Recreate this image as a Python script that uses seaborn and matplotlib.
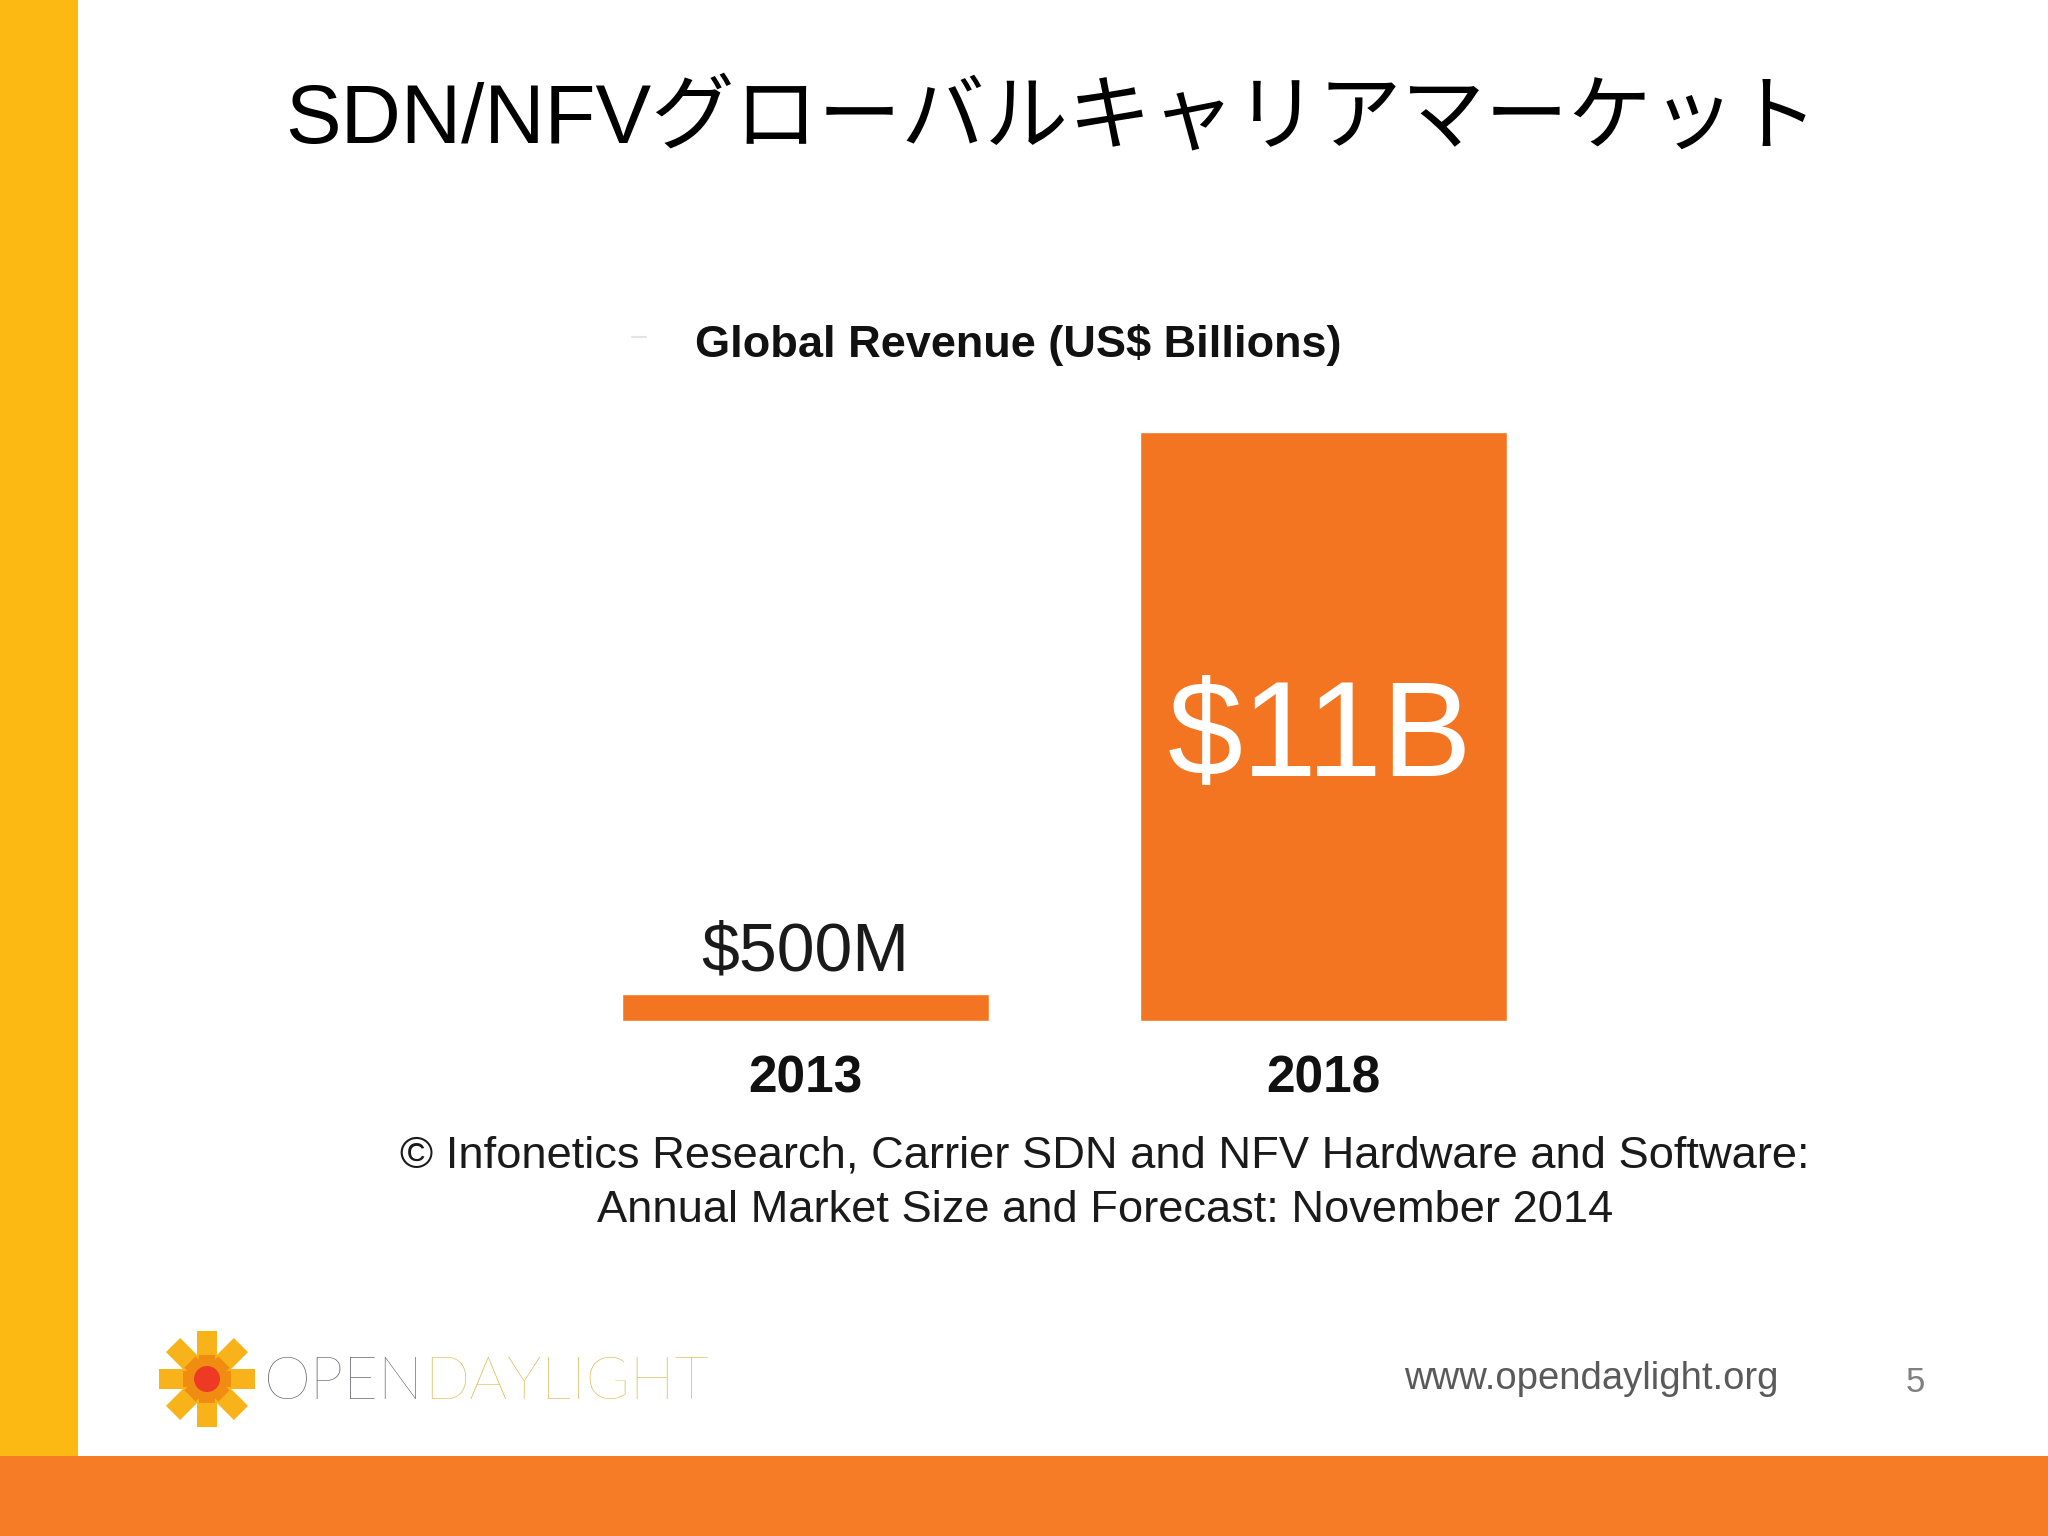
import numpy as np
import pandas as pd
import matplotlib
matplotlib.use("Agg")
import matplotlib.pyplot as plt
from matplotlib.patches import Rectangle, Circle
import seaborn as sns

# --- data ---
years = ["2013", "2018"]
revenue = [0.5, 11]
value_labels = ["$500M", "$11B"]

slide_title = "SDN/NFVグローバルキャリアマーケット"
chart_title = "Global Revenue (US$ Billions)"
source_lines = ["© Infonetics Research, Carrier SDN and NFV Hardware and Software:",
                "Annual Market Size and Forecast: November 2014"]
site = "www.opendaylight.org"
page = "5"

ORANGE = "#F47521"
BAND_ORANGE = "#F67C25"
BAND_YELLOW = "#FDB913"
LATIN = "Liberation Sans"
W, H = 2048, 1536

sns.set_theme(style="white")
plt.rcParams['font.family'] = [LATIN, 'Noto Sans CJK JP', 'DejaVu Sans']

fig = plt.figure(figsize=(W / 100, H / 100), dpi=100, facecolor="white")

# layer in pixel coordinates for the slide furniture
bg = fig.add_axes([0, 0, 1, 1], zorder=0)
bg.set_xlim(0, W)
bg.set_ylim(H, 0)
bg.axis("off")
bg.add_patch(Rectangle((0, 0), 78, 1456, color=BAND_YELLOW, lw=0))
bg.add_patch(Rectangle((0, 1456), W, 80, color=BAND_ORANGE, lw=0))

# logo
cx, cy = 207, 1379
for half, col, thick in [(48, "#F9B31A", 20), (24, "#F08C12", 16)]:
    for ang in [0, 45, 90, 135]:
        t = matplotlib.transforms.Affine2D().rotate_deg_around(cx, cy, ang) + bg.transData
        bg.add_patch(Rectangle((cx - half, cy - thick / 2), 2 * half, thick, color=col, lw=0, transform=t))
bg.add_patch(Circle((cx, cy), 13, color="#EE3A24", lw=0))

bg.text(264, 1383, "OPEN", fontfamily="Lato", fontweight="light", fontsize=43, color="#55565F", va="center", ha="left")
bg.text(424, 1383, "DAYLIGHT", fontfamily="Lato", fontweight="light", fontsize=43, color="#D9B84E", va="center", ha="left")

bg.plot([632, 646], [337, 337], color="#E4E4E4", lw=1.5)

bg.text(1052, 121, slide_title, fontsize=60, color="black", ha="center", va="center")
bg.text(1018, 345, chart_title, fontsize=32.5, fontweight="bold", color="#111111", ha="center", va="center")
bg.text(1105, 1156, source_lines[0], fontsize=32.6, color="#1a1a1a", ha="center", va="center")
bg.text(1105, 1211, source_lines[1], fontsize=32.6, color="#1a1a1a", ha="center", va="center")
bg.text(1591, 1379, site, fontsize=27.5, color="#5a5a5a", ha="center", va="center")
bg.text(1915, 1383, page, fontsize=25, color="#808080", ha="center", va="center")

# chart: baseline at y=1021 px, top of the 11 bar at y=432 px
ax = fig.add_axes([546 / W, 1 - 1021 / H, 1037 / W, 589 / H], zorder=1)
ax.patch.set_alpha(0)
df = pd.DataFrame({"year": years, "revenue": revenue})
sns.barplot(data=df, x="year", y="revenue", color=ORANGE, saturation=1, width=0.707, ax=ax)
ax.set_xlim(-0.5, 1.5)
ax.set_ylim(0, 11)
ax.set_xlabel("")
ax.set_ylabel("")
ax.set_yticks([])
sns.despine(ax=ax, left=True, bottom=True)
ax.tick_params(axis="x", length=0, pad=24)
for lab in ax.get_xticklabels():
    lab.set_fontsize(37)
    lab.set_fontweight("bold")
    lab.set_color("#111111")

ax.annotate(value_labels[0], (0, revenue[0]), xytext=(0, 7), textcoords="offset points",
            ha="center", va="bottom", fontsize=49, color="#1a1a1a")
ax.text(0.993, 5.23, value_labels[1], ha="center", va="center", fontsize=97, color="white")

fig.savefig("out.png", dpi=100)
